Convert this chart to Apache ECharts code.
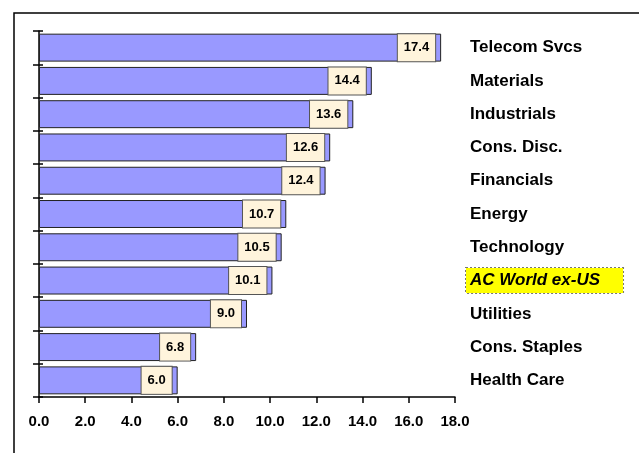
<!DOCTYPE html>
<html>
<head>
<meta charset="utf-8">
<script src="https://cdn.jsdelivr.net/npm/echarts@6/dist/echarts.min.js"></script>
<style>
  html, body { margin: 0; padding: 0; background: #fff; }
  #chart { width: 639px; height: 453px; }
</style>
</head>
<body>
<div id="chart"></div>
<script>
// sector returns, top to bottom
const categories = ['Telecom Svcs', 'Materials', 'Industrials', 'Cons. Disc.', 'Financials',
  'Energy', 'Technology', 'AC World ex-US', 'Utilities', 'Cons. Staples', 'Health Care']
const values = [17.4, 14.4, 13.6, 12.6, 12.4, 10.7, 10.5, 10.1, 9.0, 6.8, 6.0]
const highlight = 'AC World ex-US'

const chart = echarts.init(document.getElementById('chart'))
const font = 'Arial, "Liberation Sans", sans-serif'

const option = {
  animation: false,
  textStyle: {fontFamily: font},
  graphic: [{
    type: 'rect',
    shape: {x: 14, y: 13, width: 700, height: 500},
    style: {fill: 'none', stroke: '#000', lineWidth: 1.5}
  }],
  grid: {left: 39, top: 31, width: 416, height: 366, containLabel: false},
  xAxis: {
    type: 'value',
    min: 0, max: 18, interval: 2,
    splitLine: {show: false},
    axisLine: {show: true, lineStyle: {color: '#000', width: 1.5}},
    axisTick: {show: true, length: 6, lineStyle: {color: '#000', width: 1.5}},
    axisLabel: {
      margin: 17, color: '#000', fontSize: 15, fontWeight: 'bold', fontFamily: font,
      formatter: v => v.toFixed(1)
    }
  },
  yAxis: [{
    type: 'category', data: categories, inverse: true, position: 'left',
    axisLine: {show: true, lineStyle: {color: '#000', width: 1.5}},
    axisTick: {show: true, length: 6, lineStyle: {color: '#000', width: 1.5}},
    axisLabel: {show: false}
  }, {
    type: 'category', data: categories, inverse: true, position: 'left',
    axisLine: {show: false},
    axisTick: {show: true, inside: true, length: 4, lineStyle: {color: '#000', width: 1.5}},
    axisLabel: {show: false}
  }, {
    type: 'category', data: categories, inverse: true, position: 'right',
    axisLine: {show: false}, axisTick: {show: false},
    axisLabel: {
      margin: 11, align: 'left', fontFamily: font,
      formatter: v => v === highlight ? '{hl|' + v + '}' : '{n|' + v + '}',
      rich: {
        n: {color: '#000', fontSize: 17, fontWeight: 'bold', padding: [0, 0, 0, 4], fontFamily: font},
        hl: {
          color: '#000', fontSize: 17, fontWeight: 'bold', fontStyle: 'italic', fontFamily: font,
          lineHeight: 17,
          backgroundColor: '#FFFF00', borderColor: '#777', borderWidth: 1, borderType: 'dotted',
          padding: [4, 23, 4, 4]
        }
      }
    }
  }],
  series: [{
    type: 'bar',
    data: values,
    barCategoryGap: '16%',
    itemStyle: {color: '#9999FF', borderColor: '#222', borderWidth: 1},
    label: {
      show: true,
      position: 'insideRight',
      distance: 6,
      formatter: p => p.value.toFixed(1),
      color: '#000', fontSize: 13, fontWeight: 'bold', fontFamily: font,
      lineHeight: 14,
      backgroundColor: '#FFF4DC', borderColor: '#555', borderWidth: 1,
      padding: [7, 6, 6, 6]
    }
  }]
}

chart.setOption(option)
window.onresize = function () {
  chart.resize()
}
</script>
</body>
</html>
